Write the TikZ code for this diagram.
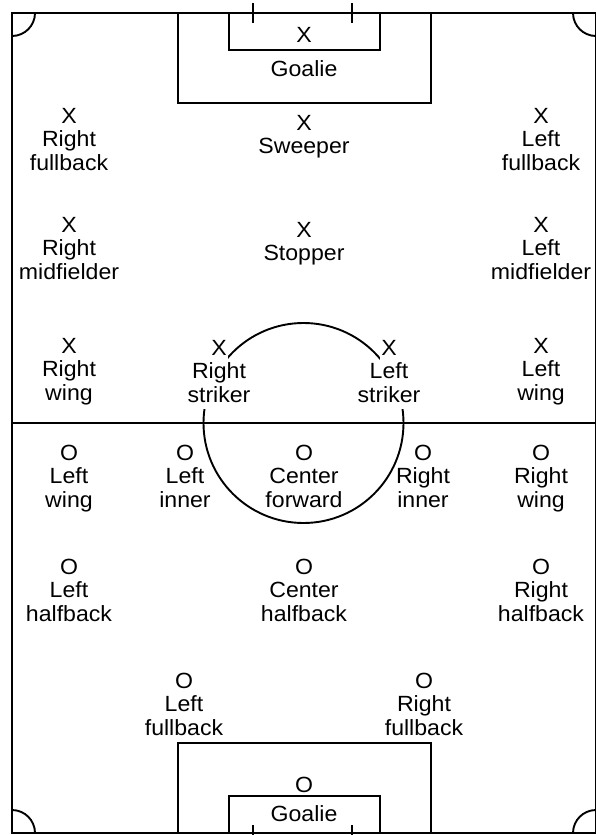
\documentclass[tikz,border=0pt]{standalone}
\usepackage{fontspec}
\setmainfont[FakeStretch=1.05]{Liberation Sans}
\newcommand\tb[1]{\begin{tabular}[t]{@{}c@{}}#1\end{tabular}}
\newcommand\wl[1]{{\setlength\fboxsep{0pt}\colorbox{white}{\strut\hspace{1.5bp}#1\hspace{1.5bp}}}}
\begin{document}
\begin{tikzpicture}[x=1bp,y=-1bp,
  lbl/.style={inner sep=0pt, font=\fontsize{22bp}{23.5bp}\selectfont, anchor=base},
  fieldline/.style={line width=2.2bp},
  boxline/.style={line width=1.9bp}]
\useasboundingbox (0,0) rectangle (596,835);
% field
\draw[fieldline] (12,13) rectangle (596,833);
\draw[fieldline] (12,423) -- (596,423);
% corner arcs
\draw[boxline] (35,13) arc[start angle=0, end angle=90, radius=23];
\draw[boxline] (573,13) arc[start angle=180, end angle=90, radius=23];
\draw[boxline] (12,810) arc[start angle=270, end angle=360, radius=23];
\draw[boxline] (573,833) arc[start angle=180, end angle=270, radius=23];
% top goal
\draw[boxline] (178,13) -- (178,103) -- (431,103) -- (431,13);
\draw[boxline] (229,13) -- (229,50) -- (380,50) -- (380,13);
\draw[boxline] (253,3) -- (253,23);
\draw[boxline] (352,3) -- (352,23);
% bottom goal
\draw[boxline] (178,833) -- (178,743) -- (431,743) -- (431,833);
\draw[boxline] (229,833) -- (229,796) -- (380,796) -- (380,833);
\draw[boxline] (253,825) -- (253,845);
\draw[boxline] (352,825) -- (352,845);
% center circle
\draw[boxline] (303.5,423) circle[radius=100];
% goalies
\node[lbl] (xg) at (304,42) {X};
\node[lbl] (xgl) at (304,76) {Goalie};
\node[lbl] (og) at (304,792) {O};
\node[lbl] (ogl) at (304,821) {Goalie};
% X team
\node[lbl] (xrfb) at (69,123) {\tb{X\\Right\\fullback}};
\node[lbl] (xsw) at (304,130) {\tb{X\\Sweeper}};
\node[lbl] (xlfb) at (541,123) {\tb{X\\Left\\fullback}};
\node[lbl] (xrm) at (69,232) {\tb{X\\Right\\midfielder}};
\node[lbl] (xst) at (304,237) {\tb{X\\Stopper}};
\node[lbl] (xlm) at (541,232) {\tb{X\\Left\\midfielder}};
\node[lbl] (xrw) at (69,353) {\tb{X\\Right\\wing}};
\node[lbl] (xrs) at (219,355) {\tb{\wl{X}\\\wl{Right}\\\wl{striker}}};
\node[lbl] (xls) at (389,355) {\tb{\wl{X}\\\wl{Left}\\\wl{striker}}};
\node[lbl] (xlw) at (541,353) {\tb{X\\Left\\wing}};
% O team
\node[lbl] (olw) at (69,460) {\tb{O\\Left\\wing}};
\node[lbl] (oli) at (185,460) {\tb{O\\Left\\inner}};
\node[lbl] (ocf) at (304,460) {\tb{O\\Center\\forward}};
\node[lbl] (ori) at (423,460) {\tb{O\\Right\\inner}};
\node[lbl] (orw) at (541,460) {\tb{O\\Right\\wing}};
\node[lbl] (olh) at (69,574) {\tb{O\\Left\\halfback}};
\node[lbl] (och) at (304,574) {\tb{O\\Center\\halfback}};
\node[lbl] (orh) at (541,574) {\tb{O\\Right\\halfback}};
\node[lbl] (olf) at (184,688) {\tb{O\\Left\\fullback}};
\node[lbl] (orf) at (424,688) {\tb{O\\Right\\fullback}};
\end{tikzpicture}
\end{document}
